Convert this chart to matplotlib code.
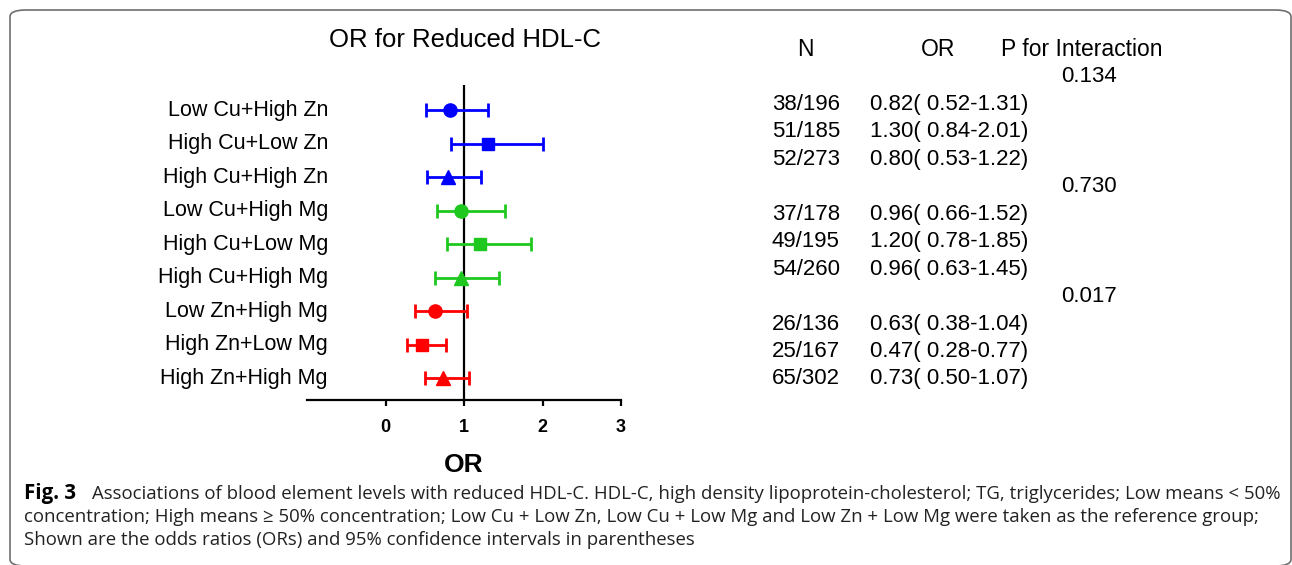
import matplotlib
matplotlib.use("Agg")
import matplotlib.pyplot as plt
import matplotlib.transforms as mtransforms
from matplotlib.patches import FancyBboxPatch

# ---------------- data ----------------
groups = ["Low Cu+High Zn", "High Cu+Low Zn", "High Cu+High Zn",
          "Low Cu+High Mg", "High Cu+Low Mg", "High Cu+High Mg",
          "Low Zn+High Mg", "High Zn+Low Mg", "High Zn+High Mg"]
odds = [0.82, 1.30, 0.80, 0.96, 1.20, 0.96, 0.63, 0.47, 0.73]
lower = [0.52, 0.84, 0.53, 0.66, 0.78, 0.63, 0.38, 0.28, 0.50]
upper = [1.31, 2.01, 1.22, 1.52, 1.85, 1.45, 1.04, 0.77, 1.07]
cases = ["38/196", "51/185", "52/273", "37/178", "49/195", "54/260",
         "26/136", "25/167", "65/302"]
p_interaction = ["0.134", "0.730", "0.017"]
xticks = [0, 1, 2, 3]

colors = ["#0000ff"] * 3 + ["#1ec81e"] * 3 + ["#ff0000"] * 3
markers = ["o", "s", "^"] * 3

W, H = 1292, 565
fig = plt.figure(figsize=(W / 100, H / 100), dpi=100)
plt.rcParams["font.family"] = ["Liberation Sans", "DejaVu Sans"]

def fx(px):
    return px / W

def fy(py):
    return 1 - py / H

# border
box = FancyBboxPatch((fx(10), fy(566)), fx(1281), (566 - 10) / H,
                     boxstyle="round,pad=0,rounding_size=0.012",
                     transform=fig.transFigure, fill=False,
                     edgecolor="#6e6e6e", linewidth=1.2, clip_on=False)
fig.patches.append(box)

# axes
ax_left, ax_right = 307, 621
ax_top, ax_bottom = 85, 400
ax = fig.add_axes([fx(ax_left), fy(ax_bottom), fx(ax_right - ax_left),
                   (ax_bottom - ax_top) / H])
ax.set_xlim(-1, 3)
row0, drow = 110, 33.5
ax.set_ylim((ax_bottom - row0) / drow, (ax_top - row0) / drow)
for s in ["top", "right", "left"]:
    ax.spines[s].set_visible(False)
ax.spines["bottom"].set_linewidth(1.6)
ax.set_yticks([])
ax.set_xticks(xticks)
ax.set_xticklabels([str(t) for t in xticks], fontsize=13, fontweight="bold")
ax.tick_params(axis="x", direction="out", length=4, width=1.6, pad=10)
ax.axvline(1, color="black", linewidth=1.6, zorder=1)
ax.set_xlabel("OR", fontsize=19, fontweight="bold", labelpad=12)

for i in range(len(groups)):
    ax.errorbar(odds[i], i,
                xerr=[[odds[i] - lower[i]], [upper[i] - odds[i]]],
                fmt=markers[i], color=colors[i], ecolor=colors[i],
                markersize=9.5 if markers[i] != "s" else 9,
                elinewidth=2.0, capsize=5, capthick=2.0, zorder=3)

# category labels
lab_tr = mtransforms.blended_transform_factory(fig.transFigure, ax.transData)
for i, g in enumerate(groups):
    ax.text(fx(328), i, g, transform=lab_tr, ha="right", va="center",
            fontsize=15.5, clip_on=False)

# title
fig.text(fx(465), fy(40), "OR for Reduced HDL-C", ha="center", va="center",
         fontsize=18.5)

# table
tfs = 16
hfs = 16.5
fig.text(fx(805), fy(50), "N", ha="center", va="center", fontsize=hfs)
fig.text(fx(938), fy(50), "OR", ha="center", va="center", fontsize=hfs)
fig.text(fx(1001), fy(50), "P for Interaction", ha="left", va="center",
         fontsize=hfs)
ty0, tdy = 77, 27.45
line = 0
for gi in range(3):
    fig.text(fx(1117), fy(ty0 + line * tdy), p_interaction[gi], ha="right",
             va="center", fontsize=tfs)
    line += 1
    for k in range(3):
        i = gi * 3 + k
        y = fy(ty0 + line * tdy)
        fig.text(fx(772), y, cases[i], ha="left", va="center", fontsize=tfs)
        fig.text(fx(870), y,
                 f"{odds[i]:.2f}( {lower[i]:.2f}-{upper[i]:.2f})",
                 ha="left", va="center", fontsize=tfs)
        line += 1

# caption
cap_fam = ["Open Sans", "DejaVu Sans"]
cfs = 13.4
lines = [
    "Associations of blood element levels with reduced HDL-C. HDL-C, high density lipoprotein-cholesterol; TG, triglycerides; Low means < 50%",
    "concentration; High means \u2265 50% concentration; Low Cu + Low Zn, Low Cu + Low Mg and Low Zn + Low Mg were taken as the reference group;",
    "Shown are the odds ratios (ORs) and 95% confidence intervals in parentheses",
]
fig.text(fx(24), fy(499), "Fig. 3", ha="left", va="baseline",
         fontsize=14.8, fontweight="bold", family=cap_fam)
fig.text(fx(92), fy(499), lines[0], ha="left", va="baseline", fontsize=cfs,
         family=cap_fam, color="#222222")
fig.text(fx(24), fy(522), lines[1], ha="left", va="baseline", fontsize=cfs,
         family=cap_fam, color="#222222")
fig.text(fx(24), fy(545), lines[2], ha="left", va="baseline", fontsize=cfs,
         family=cap_fam, color="#222222")

fig.savefig("out.png", dpi=100)
